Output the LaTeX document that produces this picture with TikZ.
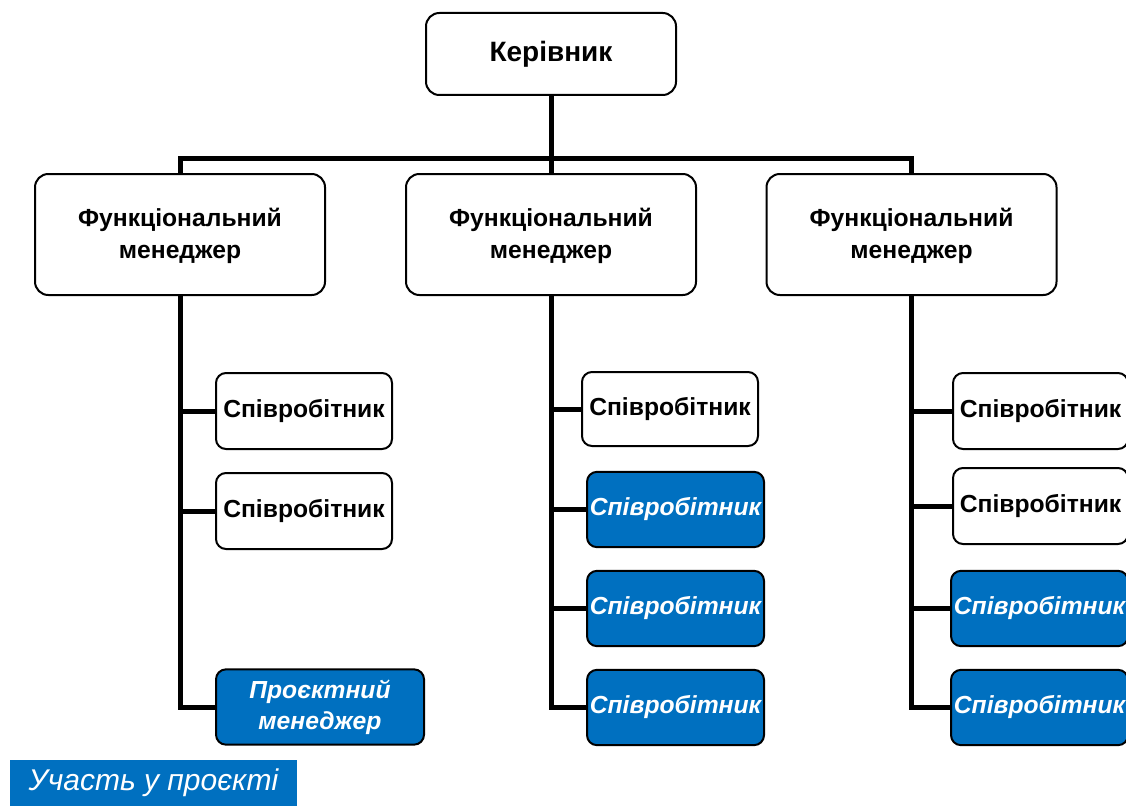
\documentclass[tikz,border=0pt]{standalone}
\usepackage{fontspec}
\setmainfont{Liberation Sans}
\definecolor{teamblue}{HTML}{0070C0}
\begin{document}
\begin{tikzpicture}[x=0.75pt,y=-0.75pt,
  basebox/.style={draw=black,line width=1.5pt,align=center,inner sep=0pt,
    font=\fontsize{18.5}{23.5}\selectfont\bfseries},
  headbox/.style={basebox,fill=white,rounded corners=10pt},
  staffbox/.style={basebox,fill=white,rounded corners=7.5pt,minimum height=57pt},
  projbox/.style={basebox,fill=teamblue,text=white,rounded corners=7.5pt,minimum height=56.5pt,
    font=\fontsize{18.5}{23.5}\selectfont\bfseries\itshape},
  link/.style={draw=black,line width=3.75pt}]
\useasboundingbox (0,0) rectangle (1126,806);
\clip (0,0) rectangle (1126,806);

\coordinate (bus) at (551,158);

% chief
\node[headbox,minimum width=187.5pt,minimum height=61.5pt,
  font=\fontsize{21}{25}\selectfont\bfseries] (chief) at (551,54) {Керівник};

% functional managers
\node[headbox,minimum width=217.5pt,minimum height=90.75pt] (fm1) at (180,234.5) {\rule{0pt}{16pt}Функціональний\\менеджер};
\node[headbox,minimum width=217.5pt,minimum height=90.75pt] (fm2) at (551,234.5) {\rule{0pt}{16pt}Функціональний\\менеджер};
\node[headbox,minimum width=217.5pt,minimum height=90.75pt] (fm3) at (911.5,234.5) {\rule{0pt}{16pt}Функціональний\\менеджер};

% staff of the first manager
\node[staffbox,minimum width=132pt] (a1) at (304,411) {Співробітник};
\node[staffbox,minimum width=132pt] (a2) at (304,511) {Співробітник};
\node[projbox,minimum width=156pt] (a3) at (320,707) {Проєктний\\менеджер};

% staff of the second manager
\node[staffbox,minimum width=132pt,minimum height=55.5pt] (b1) at (670,409) {Співробітник};
\node[projbox,minimum width=132.75pt] (b2) at (675.5,509.5) {Співробітник};
\node[projbox,minimum width=132.75pt] (b3) at (675.5,608.5) {Співробітник};
\node[projbox,minimum width=132.75pt] (b4) at (675.5,707.5) {Співробітник};

% staff of the third manager
\node[staffbox,minimum width=131.25pt] (c1) at (1040.5,411) {Співробітник};
\node[staffbox,minimum width=131.25pt] (c2) at (1040.5,506) {Співробітник};
\node[projbox,minimum width=132.75pt] (c3) at (1039.5,608.5) {Співробітник};
\node[projbox,minimum width=132.75pt] (c4) at (1039.5,707.5) {Співробітник};

% connectors
\path[link] (chief.south) -- (fm2.north);
\path[link] (fm1.north) |- (bus) -| (fm3.north);
\path[link] (fm1.south) |- (a1.west);
\path[link] (fm1.south) |- (a2.west);
\path[link] (fm1.south) |- (a3.west);
\path[link] (fm2.south) |- (b1.west);
\path[link] (fm2.south) |- (b2.west);
\path[link] (fm2.south) |- (b3.west);
\path[link] (fm2.south) |- (b4.west);
\path[link] (fm3.south) |- (c1.west);
\path[link] (fm3.south) |- (c2.west);
\path[link] (fm3.south) |- (c3.west);
\path[link] (fm3.south) |- (c4.west);

% legend
\node[fill=teamblue,text=white,minimum width=215.25pt,minimum height=34.5pt,inner sep=0pt,
  font=\fontsize{22.5}{26}\selectfont\itshape] (legend) at (153.5,783) {Участь у проєкті};
\end{tikzpicture}
\end{document}
